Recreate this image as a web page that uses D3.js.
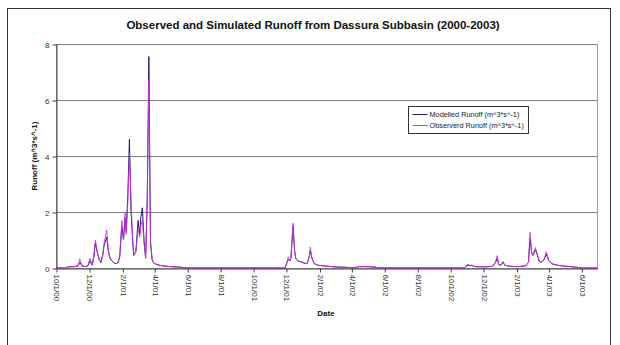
<!DOCTYPE html>
<html>
<head>
<meta charset="utf-8">
<script src="https://cdn.jsdelivr.net/npm/d3@7"></script>
<style>
  body { margin: 0; background: #fff; }
  svg { display: block; font-family: "Liberation Sans", Arial, sans-serif; }
</style>
</head>
<body>
<svg id="chart" width="620" height="345"></svg>
<script>
// --- Data (daily runoff in m^3/s) ---
const dates = [
  "2000-10-01","2000-10-19","2000-10-23","2000-11-05","2000-11-11","2000-11-14","2000-11-18","2000-11-24",
  "2000-11-29","2000-12-03","2000-12-07","2000-12-10","2000-12-13","2000-12-16","2000-12-20","2000-12-23",
  "2000-12-27","2000-12-29","2001-01-03","2001-01-06","2001-01-09","2001-01-15","2001-01-20","2001-01-24",
  "2001-01-27","2001-01-31","2001-02-03","2001-02-06","2001-02-08","2001-02-11","2001-02-14","2001-02-17",
  "2001-02-20","2001-02-22","2001-02-26","2001-03-02","2001-03-05","2001-03-07","2001-03-10","2001-03-13",
  "2001-03-16","2001-03-19","2001-03-22","2001-03-25","2001-03-28","2001-03-31","2001-04-06","2001-04-15",
  "2001-04-30","2001-05-19","2001-05-30",
  "2001-11-29","2001-12-03","2001-12-05","2001-12-08","2001-12-10","2001-12-14","2001-12-17","2001-12-19",
  "2001-12-23","2001-12-29","2002-01-03","2002-01-09","2002-01-13","2002-01-15","2002-01-18","2002-01-22",
  "2002-01-29","2002-02-11","2002-03-02","2002-03-26","2002-04-08","2002-04-13","2002-04-26","2002-05-15",
  "2002-05-20",
  "2002-10-27","2002-10-30","2002-11-03","2002-11-07","2002-11-10","2002-11-16","2002-12-04","2002-12-19",
  "2002-12-24","2002-12-27","2002-12-30","2003-01-03","2003-01-07","2003-01-10","2003-01-20","2003-02-04",
  "2003-02-18","2003-02-23","2003-02-26","2003-03-01","2003-03-03","2003-03-08","2003-03-11","2003-03-15",
  "2003-03-18","2003-03-24","2003-03-28","2003-04-02","2003-04-08","2003-04-17","2003-04-28","2003-05-11",
  "2003-05-26","2003-06-02","2003-06-30"
];
const modelled = [
  0, 0, 0.04, 0.05, 0.08, 0.2, 0.08, 0.05,
  0.08, 0.25, 0.1, 0.4, 0.9, 0.6, 0.3, 0.2,
  0.5, 0.8, 1.1, 0.6, 0.35, 0.2, 0.15, 0.2,
  0.4, 1.5, 1.0, 1.8, 1.3, 2.6, 4.6, 2.0,
  1.0, 0.45, 0.6, 1.7, 1.2, 1.8, 2.15, 1.0,
  0.35, 2.4, 7.55, 0.9, 0.3, 0.18, 0.12, 0.08,
  0.05, 0.03, 0,
  0, 0.2, 0.3, 0.25, 0.35, 1.5, 0.6, 0.35,
  0.25, 0.22, 0.18, 0.15, 0.4, 0.62, 0.35, 0.16,
  0.1, 0.07, 0.04, 0.02, 0.01, 0.04, 0.05, 0.03,
  0,
  0, 0.05, 0.1, 0.08, 0.1, 0.05, 0.04, 0.06,
  0.2, 0.35, 0.12, 0.1, 0.22, 0.1, 0.06, 0.05,
  0.08, 0.2, 1.05, 0.55, 0.45, 0.65, 0.5, 0.25,
  0.2, 0.3, 0.5, 0.25, 0.15, 0.1, 0.07, 0.05,
  0.02, 0, 0
];
const observed = [
  0, 0, 0.04, 0.05, 0.08, 0.33, 0.08, 0.05,
  0.08, 0.35, 0.1, 0.4, 1.0, 0.6, 0.3, 0.2,
  0.5, 0.9, 1.36, 0.6, 0.35, 0.2, 0.15, 0.2,
  0.4, 1.7, 1.0, 2.0, 1.2, 2.3, 4.1, 2.4,
  1.0, 0.45, 0.6, 1.4, 1.1, 1.5, 1.7, 0.9,
  0.35, 2.5, 6.7, 1.0, 0.3, 0.18, 0.12, 0.08,
  0.05, 0.03, 0,
  0, 0.2, 0.4, 0.25, 0.35, 1.6, 0.6, 0.35,
  0.25, 0.22, 0.18, 0.15, 0.4, 0.75, 0.35, 0.16,
  0.1, 0.07, 0.04, 0.02, 0.01, 0.05, 0.06, 0.04,
  0,
  0, 0.06, 0.14, 0.08, 0.1, 0.05, 0.04, 0.06,
  0.2, 0.44, 0.12, 0.1, 0.2, 0.1, 0.06, 0.05,
  0.08, 0.2, 1.28, 0.55, 0.45, 0.73, 0.5, 0.25,
  0.2, 0.3, 0.58, 0.25, 0.15, 0.1, 0.07, 0.05,
  0.02, 0, 0
];
const xTickDates = ["2000-10-01","2000-12-01","2001-02-01","2001-04-01","2001-06-01","2001-08-01","2001-10-01",
  "2001-12-01","2002-02-01","2002-04-01","2002-06-01","2002-08-01","2002-10-01","2002-12-01",
  "2003-02-01","2003-04-01","2003-06-01"];
const yTicks = [0, 2, 4, 6, 8];
const seriesNames = ["Modelled Runoff  (m^3*s^-1)", "Observerd Runoff (m^3*s^-1)"];
const seriesColors = ["#1c1c6e", "#d030d8"];

// --- Layout ---
const parse = d3.timeParse("%Y-%m-%d");
const fmt = d3.timeFormat("%-m/%-d/%y");
const plot = { left: 56, right: 597, top: 44, bottom: 268 };

const svg = d3.select("#chart");

// outer chart frame
svg.append("rect")
  .attr("x", 7.5).attr("y", 8.5).attr("width", 603).attr("height", 345)
  .attr("fill", "#fff").attr("stroke", "#333").attr("stroke-width", 1);

const x = d3.scaleTime()
  .domain([parse("2000-10-01"), parse("2003-06-30")])
  .range([plot.left, plot.right]);
const y = d3.scaleLinear().domain([0, 8]).range([plot.bottom, plot.top]);

// plot area border (top / right)
svg.append("rect")
  .attr("x", plot.left + 0.5).attr("y", plot.top + 0.5)
  .attr("width", plot.right - plot.left).attr("height", plot.bottom - plot.top)
  .attr("fill", "none").attr("stroke", "#a0a0a0");

// gridlines
svg.append("g").selectAll("line")
  .data(yTicks.filter(d => d > 0))
  .enter().append("line")
  .attr("x1", plot.left).attr("x2", plot.right)
  .attr("y1", d => Math.round(y(d)) + 0.5).attr("y2", d => Math.round(y(d)) + 0.5)
  .attr("stroke", "#808080").attr("stroke-width", 1);

// y axis
const yAxis = svg.append("g")
  .attr("transform", `translate(${plot.left + 0.5},0.5)`)
  .call(d3.axisLeft(y).tickValues(yTicks).tickSize(4).tickSizeOuter(0).tickPadding(3));
yAxis.select(".domain").attr("stroke", "#404040");
yAxis.selectAll(".tick line").attr("stroke", "#404040");
yAxis.selectAll("text").attr("fill", "#333").style("font-size", "8px").style("font-family", "Liberation Sans, Arial, sans-serif");

// x axis
const xAxis = svg.append("g")
  .attr("transform", `translate(0.5,${plot.bottom + 0.5})`)
  .call(d3.axisBottom(x).tickValues(xTickDates.map(parse)).tickFormat(fmt).tickSize(4).tickSizeOuter(0));
xAxis.select(".domain").attr("stroke", "#404040");
xAxis.selectAll(".tick line").attr("stroke", "#404040");
xAxis.selectAll("text")
  .attr("fill", "#333")
  .style("font-size", "8px")
  .style("font-family", "Liberation Sans, Arial, sans-serif")
  .attr("text-anchor", "start")
  .attr("dy", "0.32em")
  .attr("y", 0)
  .attr("transform", "translate(0,6) rotate(90)");

// lines
const rows = dates.map((d, i) => ({ date: parse(d), mod: modelled[i], obs: observed[i] }));
const lineMod = d3.line().x(d => x(d.date)).y(d => y(d.mod));
const lineObs = d3.line().x(d => x(d.date)).y(d => y(d.obs));

svg.append("path").datum(rows)
  .attr("d", lineMod).attr("fill", "none")
  .attr("stroke", seriesColors[0]).attr("stroke-width", 1);
svg.append("path").datum(rows)
  .attr("d", lineObs).attr("fill", "none")
  .attr("stroke", seriesColors[1]).attr("stroke-width", 1).attr("stroke-opacity", 0.85);

// title
svg.append("text")
  .attr("x", 313).attr("y", 29)
  .attr("text-anchor", "middle")
  .style("font-size", "11.5px").style("font-weight", "700").attr("fill", "#111")
  .text("Observed and Simulated Runoff from Dassura Subbasin (2000-2003)");

// axis titles
svg.append("text")
  .attr("transform", `translate(37,${(plot.top + plot.bottom) / 2}) rotate(-90)`)
  .attr("text-anchor", "middle")
  .style("font-size", "8px").style("font-weight", "700").attr("fill", "#111")
  .text("Runoff (m^3*s^-1)");

svg.append("text")
  .attr("x", 326).attr("y", 316)
  .attr("text-anchor", "middle")
  .style("font-size", "8px").style("font-weight", "700").attr("fill", "#111")
  .text("Date");

// legend
const legend = svg.append("g").attr("transform", "translate(408.5,106.5)");
legend.append("rect")
  .attr("width", 120).attr("height", 27)
  .attr("fill", "#fff").attr("stroke", "#333");
seriesNames.forEach((name, i) => {
  const ly = 8 + i * 11;
  legend.append("line")
    .attr("x1", 4).attr("x2", 19).attr("y1", ly).attr("y2", ly)
    .attr("stroke", seriesColors[i]).attr("stroke-width", 1);
  legend.append("text")
    .attr("x", 21).attr("y", ly + 2.5)
    .style("font-size", "7.3px").attr("fill", "#222")
    .text(name);
});
</script>
</body>
</html>
